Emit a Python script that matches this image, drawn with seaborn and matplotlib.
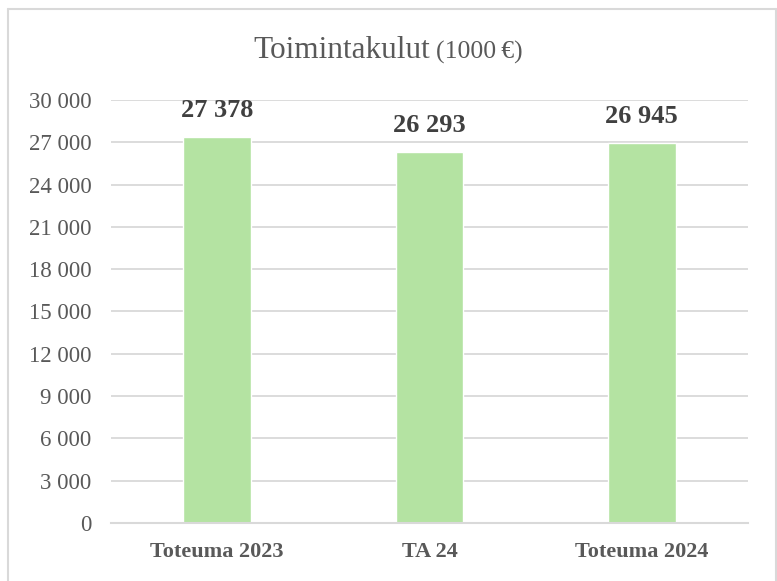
import matplotlib
matplotlib.use("Agg")
import matplotlib.pyplot as plt
import seaborn as sns
import pandas as pd
from matplotlib.lines import Line2D

categories = ["Toteuma 2023", "TA 24", "Toteuma 2024"]
values = [27378, 26293, 26945]
yticks = [0, 3000, 6000, 9000, 12000, 15000, 18000, 21000, 24000, 27000, 30000]

sns.set_theme(style="white")
plt.rcParams['font.family'] = ['Liberation Serif', 'DejaVu Serif']

df = pd.DataFrame({"cat": categories, "val": values})

fig = plt.figure(figsize=(7.77, 5.81), dpi=100)
ax = fig.add_axes([111/777, 1-523/581, (748-111)/777, (523-100)/581])

sns.barplot(data=df, x="cat", y="val", color="#B4E3A2", saturation=1, width=0.32, ax=ax)

ax.set_ylim(0, 30000)
ax.set_xlim(-0.5, 2.5)
ax.set_yticks(yticks)
ax.set_yticklabels([f"{v:,}".replace(",", "\u00a0") for v in yticks], fontsize=16.5, color="#595959")
ax.set_xticks(range(len(categories)))
ax.set_xticklabels(categories, fontsize=16, fontweight="bold", color="#595959")
ax.tick_params(axis="y", length=0, pad=14)
ax.tick_params(axis="x", length=0, pad=14)
ax.set_xlabel("")
ax.set_ylabel("")
ax.yaxis.grid(True, color="#D9D9D9", linewidth=1.3)
ax.set_axisbelow(True)
for s in ["top", "right", "left"]:
    ax.spines[s].set_visible(False)
ax.spines["bottom"].set_color("#D9D9D9")
ax.spines["bottom"].set_linewidth(1.5)

for i, v in enumerate(values):
    ax.annotate(f"{v:,}".replace(",", "\u00a0"), (i, v), xytext=(0, 11), textcoords="offset points",
                ha="center", va="bottom", fontsize=19, fontweight="bold", color="#404040")

fig.text(430/777, 1-50/581, "Toimintakulut", ha="right", va="center", fontsize=22.5, color="#595959")
fig.text(436/777, 1-52/581, "(1000\u202f€)", ha="left", va="center", fontsize=18.5, color="#595959")

# outer frame
W, H = 777, 581
fig.add_artist(Line2D([7.5/W, 7.5/W], [0, 1-9/H], transform=fig.transFigure, color="#D9D9D9", lw=1.5))
fig.add_artist(Line2D([7.5/W, 776/W], [1-9/H, 1-9/H], transform=fig.transFigure, color="#D9D9D9", lw=1.5))
fig.add_artist(Line2D([776/W, 776/W], [0, 1-9/H], transform=fig.transFigure, color="#D9D9D9", lw=1.5))

fig.savefig("out.png", dpi=100, facecolor="white")
